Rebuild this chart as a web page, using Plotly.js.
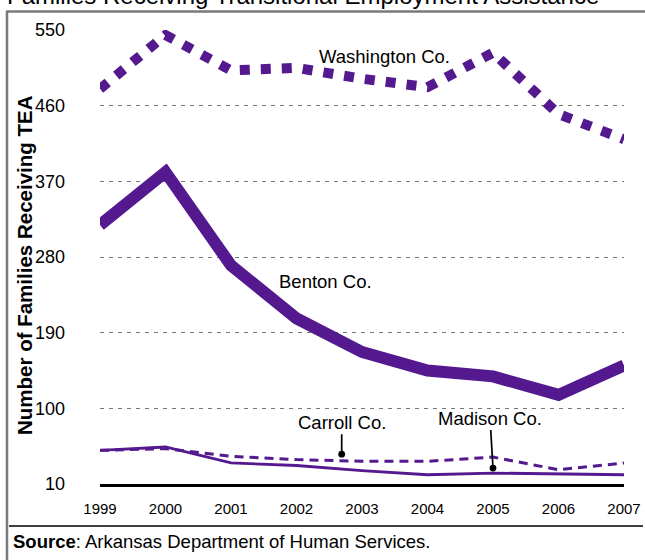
<!DOCTYPE html>
<html>
<head>
<meta charset="utf-8">
<script src="https://cdn.plot.ly/plotly-3.0.1.min.js"></script>
<style>
  html, body { margin: 0; padding: 0; background: #ffffff; }
  #chart { width: 645px; height: 560px; }
</style>
</head>
<body>
<div id="chart"></div>
<script>
// ---- data ----
const years = [1999, 2000, 2001, 2002, 2003, 2004, 2005, 2006, 2007];
const washington = [480, 544, 502, 505, 492, 482, 523, 450, 420];
const benton = [318, 381, 270, 207, 167, 145, 138, 116, 151];
const carroll = [50, 52, 43, 39, 37, 37, 42, 27, 35];
const madison = [50, 54, 35, 32, 26, 21, 23, 22, 21];
const yTicks = [10, 100, 190, 280, 370, 460, 550];
const seriesNames = ["Washington Co.", "Benton Co.", "Carroll Co.", "Madison Co."];
const chartTitle = "Families Receiving Transitional Employment Assistance";
const yTitle = "Number of Families Receiving TEA";
const sourceNote = "<b>Source</b>: Arkansas Department of Human Services.";

const purple = "#55198f";
const FONT = "Liberation Sans, Arial, Helvetica, sans-serif";

// plot area in pixels: left 100, right 624, top 30, bottom 484
const L = 100, R = 624, T = 30, B = 484;
const px2paperX = p => (p - L) / (R - L);
const px2paperY = p => (B - p) / (B - T);

const traces = [
  { x: years, y: madison, name: seriesNames[3], mode: "lines", cliponaxis: false,
    line: { color: purple, width: 2.8 } },
  { x: years, y: carroll, name: seriesNames[2], mode: "lines", cliponaxis: false,
    line: { color: purple, width: 3, dash: "9px,6px" } },
  { x: years, y: benton, name: seriesNames[1], mode: "lines", cliponaxis: false,
    line: { color: purple, width: 12 } },
  { x: years, y: washington, name: seriesNames[0], mode: "lines", cliponaxis: false,
    line: { color: purple, width: 10, dash: "10px,11px" } }
];

const layout = {
  width: 645, height: 560,
  margin: { l: L, r: 645 - R, t: T, b: 560 - B, pad: 0 },
  paper_bgcolor: "#ffffff", plot_bgcolor: "#ffffff",
  showlegend: false,
  font: { family: FONT, color: "#000000" },
  xaxis: {
    range: [1999, 2007],
    tickvals: years, ticktext: years.map(String),
    showgrid: false, zeroline: false,
    showline: true, linecolor: "#000000", linewidth: 3,
    ticks: "", ticklabelstandoff: 9,
    tickfont: { family: FONT, size: 15, color: "#000000" }
  },
  yaxis: {
    range: [10, 550],
    tickvals: yTicks, ticktext: yTicks.map(String),
    showgrid: true, gridcolor: "#777777", gridwidth: 1, griddash: "4px,5px",
    zeroline: false, showline: false,
    ticks: "", ticklabelstandoff: 34,
    tickfont: { family: FONT, size: 18, color: "#000000" }
  },
  annotations: [
    { text: chartTitle, xref: "paper", yref: "paper",
      x: px2paperX(5), y: px2paperY(3), xanchor: "left", yanchor: "bottom",
      yshift: -8, showarrow: false,
      font: { family: FONT, size: 24, color: "#000000" } },
    { text: "<b>" + yTitle + "</b>", xref: "paper", yref: "paper",
      x: px2paperX(24), y: px2paperY(265), xanchor: "center", yanchor: "middle",
      textangle: -90, showarrow: false,
      font: { family: FONT, size: 20.5, color: "#000000" } },
    { text: sourceNote, xref: "paper", yref: "paper",
      x: px2paperX(11), y: px2paperY(541), xanchor: "left", yanchor: "middle",
      showarrow: false,
      font: { family: FONT, size: 18.5, color: "#000000" } },
    { text: seriesNames[0], xref: "x", yref: "y", x: 2003.35, y: 518,
      showarrow: false, font: { family: FONT, size: 18.5, color: "#000000" } },
    { text: seriesNames[1], xref: "x", yref: "y", x: 2002.45, y: 251,
      showarrow: false, font: { family: FONT, size: 18.5, color: "#000000" } },
    { text: seriesNames[2], xref: "x", yref: "y", x: 2002.69, y: 45.5,
      showarrow: true, arrowhead: 6, arrowsize: 1.0, arrowwidth: 1.7, arrowcolor: "#000000",
      ax: 0, ay: -32, font: { family: FONT, size: 18.5, color: "#000000" } },
    { text: seriesNames[3], xref: "x", yref: "y", x: 2005.0, y: 29,
      showarrow: true, arrowhead: 6, arrowsize: 1.0, arrowwidth: 1.7, arrowcolor: "#000000",
      ax: -3, ay: -50, font: { family: FONT, size: 18.5, color: "#000000" } }
  ],
  shapes: [
    // frame: left and top border
    { type: "line", xref: "paper", yref: "paper",
      x0: px2paperX(7), x1: px2paperX(7), y0: px2paperY(11), y1: px2paperY(570),
      line: { color: "#7a7a7a", width: 2.5 } },
    { type: "line", xref: "paper", yref: "paper",
      x0: px2paperX(6), x1: px2paperX(650), y0: px2paperY(11.5), y1: px2paperY(11.5),
      line: { color: "#7a7a7a", width: 2.5 } },
    // separator above source note
    { type: "line", xref: "paper", yref: "paper",
      x0: px2paperX(9), x1: px2paperX(643), y0: px2paperY(526), y1: px2paperY(526),
      line: { color: "#000000", width: 1.5 } }
  ]
};

Plotly.newPlot("chart", traces, layout, { displayModeBar: false, staticPlot: true });
</script>
</body>
</html>
